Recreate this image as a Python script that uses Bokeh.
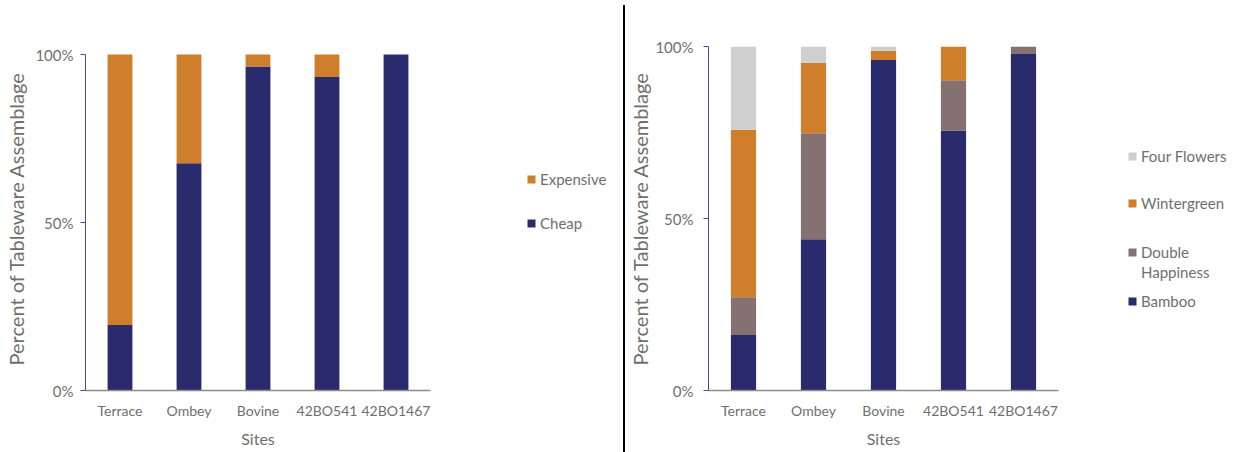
from bokeh.plotting import figure
from bokeh.models import (FactorRange, Range1d, FixedTicker, NumeralTickFormatter,
                          Legend, LegendItem, Div)
from bokeh.layouts import row
from bokeh.embed import file_html
from bokeh.resources import INLINE

# ---------------- data ----------------
sites = ["Terrace", "Ombey", "Bovine", "42BO541", "42BO1467"]

# left chart (share of assemblage)
cheap = [0.195, 0.676, 0.964, 0.933, 1.000]
expensive = [0.805, 0.324, 0.036, 0.067, 0.000]

# right chart (share of assemblage)
bamboo = [0.161, 0.440, 0.961, 0.756, 0.978]
double_happiness = [0.110, 0.308, 0.000, 0.146, 0.022]
wintergreen = [0.487, 0.205, 0.027, 0.098, 0.000]
four_flowers = [0.242, 0.047, 0.012, 0.000, 0.000]

y_ticks = [0, 0.5, 1.0]

# ---------------- style ----------------
FONT = "Lato"
TXT = "#6f6f6f"
NAVY = "#2a2b6c"
ORANGE = "#cf7e2b"
MAUVE = "#847170"
LGREY = "#d0cfcf"
TOP, BOTTOM = 46, 62   # shared frame top / bottom borders (frame spans y 46..390)


def base_fig(width, left, right, y_end, lab_standoff, title_standoff):
    p = figure(width=width, height=452, x_range=FactorRange(factors=sites),
               y_range=Range1d(0, y_end), output_backend="svg", toolbar_location=None,
               min_border_left=left, min_border_right=right,
               min_border_top=TOP, min_border_bottom=BOTTOM)
    p.outline_line_color = None
    p.xgrid.visible = False
    p.ygrid.visible = False
    p.background_fill_color = "white"
    p.border_fill_color = "white"

    ya = p.yaxis[0]
    ya.ticker = FixedTicker(ticks=y_ticks)
    ya.formatter = NumeralTickFormatter(format="0%")
    ya.bounds = (0, 1)
    ya.minor_tick_line_color = None
    ya.major_tick_in = 0
    ya.major_tick_out = 5
    ya.major_tick_line_color = "#4a4a96"
    ya.axis_line_color = "#4a4a96"
    ya.axis_line_width = 1
    ya.major_label_standoff = lab_standoff
    ya.major_label_text_font = FONT
    ya.major_label_text_font_size = "15px"
    ya.major_label_text_color = TXT
    ya.axis_label = "Percent of Tableware Assemblage"
    ya.axis_label_text_font = FONT
    ya.axis_label_text_font_size = "20px"
    ya.axis_label_text_font_style = "normal"
    ya.axis_label_text_color = TXT
    ya.axis_label_standoff = title_standoff

    xa = p.xaxis[0]
    xa.major_tick_line_color = None
    xa.minor_tick_line_color = None
    xa.major_tick_out = 0
    xa.major_tick_in = 0
    xa.axis_line_color = "#8c8c8c"
    xa.axis_line_width = 1.5
    xa.major_label_standoff = 11
    xa.major_label_text_font = FONT
    xa.major_label_text_font_size = "14px"
    xa.major_label_text_color = TXT
    xa.axis_label = "Sites"
    xa.axis_label_text_font = FONT
    xa.axis_label_text_font_size = "16px"
    xa.axis_label_text_font_style = "normal"
    xa.axis_label_text_color = TXT
    xa.axis_label_standoff = 7
    return p


def legend_fig(width):
    f = figure(width=width, height=452, x_range=Range1d(0, 1), y_range=Range1d(0, 1),
               output_backend="svg", toolbar_location=None,
               min_border_left=0, min_border_right=0,
               min_border_top=TOP, min_border_bottom=BOTTOM)
    f.axis.visible = False
    f.grid.visible = False
    f.outline_line_color = None
    return f


def add_item(f, label, color, x_off, y_center, alpha=1.0):
    # zero-height proxy bar: only its swatch is shown in the legend
    r = f.vbar(x=[0.5], top=[0], bottom=[0], width=0.1, fill_color=color,
               line_color=None, fill_alpha=alpha)
    leg = Legend(items=[LegendItem(label=label, renderers=[r])],
                 location=(x_off, (452 - BOTTOM) - y_center - 10), padding=0, margin=0,
                 border_line_color=None, background_fill_alpha=0,
                 glyph_width=10, glyph_height=10, label_standoff=4,
                 label_height=20, label_text_font=FONT,
                 label_text_font_size="15px", label_text_color=TXT)
    f.add_layout(leg)


# ---------------- left chart ----------------
# 100% sits 8px below the shared frame top
p1 = base_fig(440, 85, 10, 1 + 8 / 336, 7, 4)
p1.vbar_stack(["cheap", "expensive"], x="site", width=0.36,
              color=[NAVY, ORANGE], line_color=None,
              source=dict(site=sites, cheap=cheap, expensive=expensive))

l1 = legend_fig(183)          # x 440..623
add_item(l1, "Expensive", ORANGE, 86, 179)
add_item(l1, "Cheap", NAVY, 86, 223)

# ---------------- right chart ----------------
p2 = base_fig(443, 82, 10, 1.0, 10, 0)
p2.vbar_stack(["bamboo", "dh", "wg", "ff"], x="site", width=0.36,
              color=[NAVY, MAUVE, ORANGE, LGREY], line_color=None,
              source=dict(site=sites, bamboo=bamboo, dh=double_happiness,
                          wg=wintergreen, ff=four_flowers))

l2 = legend_fig(170)          # x 1068..1238
add_item(l2, "Four Flowers", LGREY, 59, 156)
add_item(l2, "Wintergreen", ORANGE, 59, 203)
add_item(l2, "Double", MAUVE, 59, 252)
add_item(l2, "Happiness", MAUVE, 59, 272, alpha=0.0)
add_item(l2, "Bamboo", NAVY, 59, 301)

sep = Div(width=2, height=447, margin=(5, 0, 0, 0),
          styles={"background-color": "#000000"})

layout = row(p1, l1, sep, p2, l2, spacing=0)
open("out.html", "w").write(file_html(layout, INLINE))
